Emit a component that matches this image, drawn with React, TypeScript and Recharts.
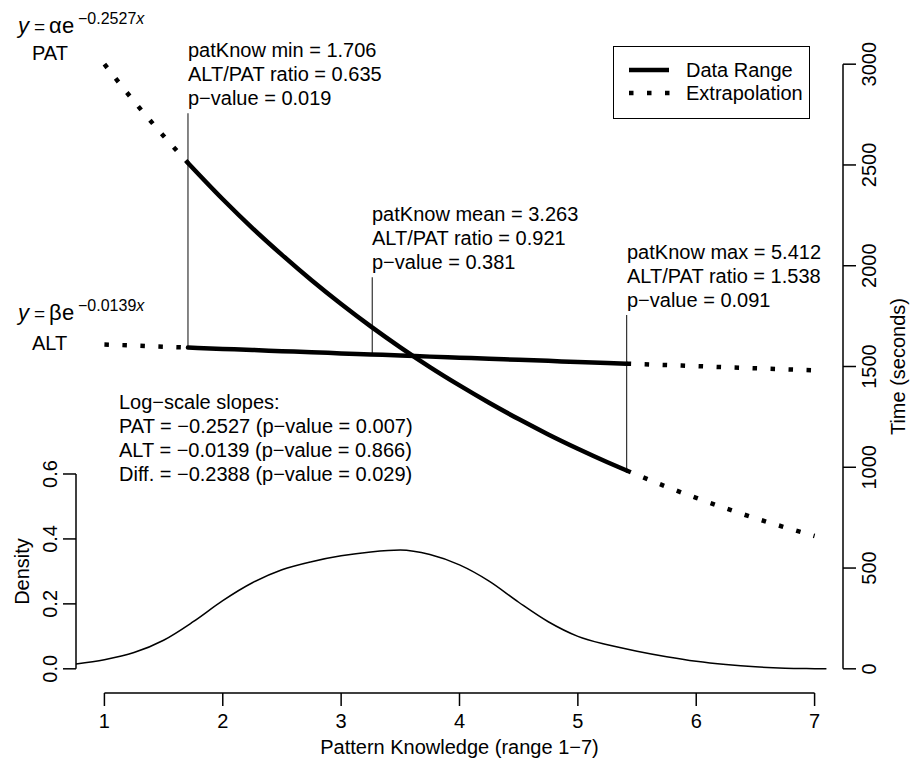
import React from 'react';
import { ComposedChart, Line, XAxis, YAxis, ReferenceLine, Legend } from 'recharts';

const FONT = '"Liberation Sans", Arial, Helvetica, sans-serif';

// pattern knowledge values for the three pieces of each fitted curve
const extrapLeftX = [1, 1.25, 1.5, 1.706];
const dataRangeX = [1.706, 2, 2.25, 2.5, 2.75, 3, 3.25, 3.5, 3.75, 4, 4.25, 4.5, 4.75, 5, 5.25, 5.412];
const extrapRightX = [5.412, 5.75, 6, 6.25, 6.5, 6.75, 7];

// fitted time in seconds (right axis)
const patLeft = [3000, 2816, 2644, 2510];
const patData = [2510, 2330, 2187, 2054, 1928, 1810, 1699, 1595, 1497, 1406, 1320, 1239, 1163, 1092, 1025, 984];
const patRight = [984, 903, 848, 796, 747, 702, 659];
const altLeft = [1609, 1604, 1598, 1594];
const altData = [1594, 1587, 1582, 1576, 1571, 1565, 1560, 1555, 1549, 1544, 1539, 1533, 1528, 1522, 1517, 1514];
const altRight = [1514, 1507, 1502, 1496, 1491, 1486, 1481];

// density of pattern knowledge (left axis)
const densityX = [0.76, 1, 1.25, 1.5, 1.75, 2, 2.25, 2.5, 2.75, 3, 3.25, 3.5, 3.75, 4, 4.25, 4.5, 4.75, 5, 5.25, 5.5, 5.75, 6, 6.25, 6.5, 6.75, 7, 7.1];
const densityY = [0.015, 0.028, 0.05, 0.088, 0.145, 0.21, 0.265, 0.305, 0.33, 0.348, 0.36, 0.366, 0.352, 0.32, 0.27, 0.205, 0.145, 0.1, 0.074, 0.054, 0.037, 0.023, 0.013, 0.006, 0.002, 0.0005, 0];

const xTicks = [1, 2, 3, 4, 5, 6, 7];
const timeTicks = [0, 500, 1000, 1500, 2000, 2500, 3000];
const densityTicks = [0, 0.2, 0.4, 0.6];

// vertical marker lines at min / mean / max pattern knowledge
const markerX = [1.706, 3.263, 5.412];
const markerFrom = [1594, 1560, 984];
const markerTo = [2757, 1943, 1755];
const markerText = [
  ['patKnow min = 1.706', 'ALT/PAT ratio = 0.635', 'p\u2212value = 0.019'],
  ['patKnow mean = 3.263', 'ALT/PAT ratio = 0.921', 'p\u2212value = 0.381'],
  ['patKnow max = 5.412', 'ALT/PAT ratio = 1.538', 'p\u2212value = 0.091'],
];
const markerTextPos = [
  { x: 188, y: 57 },
  { x: 372, y: 221 },
  { x: 627, y: 259 },
];

const slopeText = [
  'Log\u2212scale slopes:',
  'PAT = \u22120.2527 (p\u2212value = 0.007)',
  'ALT = \u22120.0139 (p\u2212value = 0.866)',
  'Diff. = \u22120.2388 (p\u2212value = 0.029)',
];

const fits = [
  { name: 'PAT', coef: '\u03b1', rate: '\u22120.2527', top: 33, label: 60 },
  { name: 'ALT', coef: '\u03b2', rate: '\u22120.0139', top: 320, label: 350 },
];

const legendItems = [
  { label: 'Data Range', dotted: false },
  { label: 'Extrapolation', dotted: true },
];

// R style expanded axis ranges
const X_DOMAIN = [0.76, 7.24];
const TIME_DOMAIN = [-120, 3120];
const DENSITY_DOMAIN = [-0.0745, 1.9366];

const CHART_W = 910;
const CHART_H = 762;
const MARGIN_TOP = 40;
const LEFT_W = 76;
const RIGHT_W = 67;
const X_H = 69;
const PLOT_W = CHART_W - LEFT_W - RIGHT_W;
const PLOT_H = CHART_H - MARGIN_TOP - X_H;

const THICK = 4.5;
const DOTS = '4.5 13.5';

// vertical position of a value on one of the y axes, used for the R style axis lines
const toPx = (d: number[], v: number) => MARGIN_TOP + ((d[1] - v) / (d[1] - d[0])) * PLOT_H;

// R draws the x axis line only between the first and last tick
const xSpan = (d: number[], a: number, b: number, len: number) => {
  const k = len / (d[1] - d[0]);
  return `0 ${(a - d[0]) * k} ${(b - a) * k} ${len}`;
};

const pts = (xs: number[], ys: number[]) => xs.map((x, i) => ({ x, y: ys[i] }));

const VTick = (props: any) => {
  const { x, y, payload, digits } = props;
  return (
    <text
      x={x}
      y={y}
      transform={`rotate(-90, ${x}, ${y})`}
      textAnchor="middle"
      fontSize={20}
      fontFamily={FONT}
      fill="#000"
    >
      {Number(payload.value).toFixed(digits)}
    </text>
  );
};

const LegendBox = () => (
  <svg width={197} height={73} style={{ display: 'block' }}>
    <rect x={0.5} y={0.5} width={196} height={72} fill="#fff" stroke="#000" strokeWidth={1} />
    {legendItems.map((item, i) => (
      <g key={item.label}>
        <line
          x1={16}
          x2={item.dotted ? 58 : 56}
          y1={24 + i * 23}
          y2={24 + i * 23}
          stroke="#000"
          strokeWidth={THICK}
          strokeDasharray={item.dotted ? DOTS : undefined}
        />
        <text x={73} y={31 + i * 23} fontSize={20} fontFamily={FONT} fill="#000">
          {item.label}
        </text>
      </g>
    ))}
  </svg>
);

const Annotations = () => (
  <svg
    width={CHART_W}
    height={CHART_H}
    style={{ position: 'absolute', left: 0, top: 0, pointerEvents: 'none' }}
    fontFamily={FONT}
    fill="#000"
  >
    {/* y axis lines, from first to last tick */}
    <line
      x1={LEFT_W}
      x2={LEFT_W}
      y1={toPx(DENSITY_DOMAIN, densityTicks[0])}
      y2={toPx(DENSITY_DOMAIN, densityTicks[densityTicks.length - 1])}
      stroke="#000"
      strokeWidth={1.5}
    />
    <line
      x1={LEFT_W + PLOT_W}
      x2={LEFT_W + PLOT_W}
      y1={toPx(TIME_DOMAIN, timeTicks[0])}
      y2={toPx(TIME_DOMAIN, timeTicks[timeTicks.length - 1])}
      stroke="#000"
      strokeWidth={1.5}
    />
    {fits.map((f) => (
      <g key={f.name}>
        <text x={18} y={f.top} fontSize={22} fontStyle="italic">y</text>
        <text x={34} y={f.top} fontSize={19}>=</text>
        <text x={49} y={f.top} fontSize={22}>{f.coef}</text>
        <text x={62} y={f.top} fontSize={22}>e</text>
        <text x={78} y={f.top - 9} fontSize={16}>
          {f.rate}
          <tspan fontStyle="italic">x</tspan>
        </text>
        <text x={32} y={f.label} fontSize={20}>{f.name}</text>
      </g>
    ))}
    {markerText.map((lines, i) => (
      <text key={i} x={markerTextPos[i].x} y={markerTextPos[i].y} fontSize={20}>
        {lines.map((t, j) => (
          <tspan key={j} x={markerTextPos[i].x} dy={j === 0 ? 0 : 24}>
            {t}
          </tspan>
        ))}
      </text>
    ))}
    <text x={119} y={409} fontSize={20}>
      {slopeText.map((t, j) => (
        <tspan key={j} x={119} dy={j === 0 ? 0 : 24}>
          {t}
        </tspan>
      ))}
    </text>
    <text
      x={898}
      y={366.5}
      transform="rotate(-90, 898, 366.5)"
      textAnchor="middle"
      dominantBaseline="central"
      fontSize={20}
    >
      Time (seconds)
    </text>
    <text
      x={22}
      y={571.5}
      transform="rotate(-90, 22, 571.5)"
      textAnchor="middle"
      dominantBaseline="central"
      fontSize={20}
    >
      Density
    </text>
  </svg>
);

const App: React.FC = () => {
  const dotted = [
    pts(extrapLeftX, patLeft),
    pts(extrapRightX, patRight),
    pts(extrapLeftX, altLeft),
    pts(extrapRightX, altRight),
  ];
  const solid = [pts(dataRangeX, patData), pts(dataRangeX, altData)];
  const axisStroke = { stroke: '#000', strokeWidth: 1.5 };

  return (
    <div style={{ position: 'absolute', left: 0, top: 0, width: CHART_W, height: CHART_H, background: '#fff' }}>
      <ComposedChart width={CHART_W} height={CHART_H} margin={{ top: MARGIN_TOP, right: 0, bottom: 0, left: 0 }}>
        <XAxis
          type="number"
          dataKey="x"
          domain={X_DOMAIN}
          allowDataOverflow
          ticks={xTicks}
          interval={0}
          height={X_H}
          axisLine={{ ...axisStroke, strokeDasharray: xSpan(X_DOMAIN, xTicks[0], xTicks[xTicks.length - 1], PLOT_W) }}
          tickLine={axisStroke}
          tickSize={13}
          tickMargin={8}
          tick={{ fill: '#000', fontSize: 20, fontFamily: FONT }}
          label={{
            value: 'Pattern Knowledge (range 1\u22127)',
            position: 'insideBottom',
            offset: 8,
            fill: '#000',
            fontSize: 20,
            fontFamily: FONT,
          }}
        />
        <YAxis
          yAxisId="density"
          orientation="left"
          type="number"
          domain={DENSITY_DOMAIN}
          allowDataOverflow
          ticks={densityTicks}
          interval={0}
          width={LEFT_W}
          axisLine={false}
          tickLine={axisStroke}
          tickSize={13}
          tickMargin={6}
          tick={(p: any) => <VTick {...p} digits={1} />}
        />
        <YAxis
          yAxisId="time"
          orientation="right"
          type="number"
          domain={TIME_DOMAIN}
          allowDataOverflow
          ticks={timeTicks}
          interval={0}
          width={RIGHT_W}
          axisLine={false}
          tickLine={axisStroke}
          tickSize={13}
          tickMargin={20}
          tick={(p: any) => <VTick {...p} digits={0} />}
        />

        {markerX.map((x, i) => (
          <ReferenceLine
            key={`m-${i}`}
            yAxisId="time"
            segment={[{ x, y: markerFrom[i] }, { x, y: markerTo[i] }]}
            stroke="#333"
            strokeWidth={1.2}
            ifOverflow="visible"
          />
        ))}

        <Line
          data={pts(densityX, densityY)}
          dataKey="y"
          yAxisId="density"
          type="monotone"
          stroke="#000"
          strokeWidth={1.5}
          dot={false}
          activeDot={false}
          isAnimationActive={false}
        />
        {dotted.map((d, i) => (
          <Line
            key={`d-${i}`}
            data={d}
            dataKey="y"
            yAxisId="time"
            type="monotone"
            stroke="#000"
            strokeWidth={THICK}
            strokeDasharray={DOTS}
            dot={false}
            activeDot={false}
            isAnimationActive={false}
          />
        ))}
        {solid.map((d, i) => (
          <Line
            key={`s-${i}`}
            data={d}
            dataKey="y"
            yAxisId="time"
            type="monotone"
            stroke="#000"
            strokeWidth={THICK}
            strokeLinecap="round"
            dot={false}
            activeDot={false}
            isAnimationActive={false}
          />
        ))}

        <Legend
          layout="vertical"
          align="center"
          verticalAlign="middle"
          wrapperStyle={{ left: 613, top: 46, width: 197, height: 73, margin: 0, padding: 0 }}
          content={() => <LegendBox />}
        />
      </ComposedChart>
      <Annotations />
    </div>
  );
};

export default App;
